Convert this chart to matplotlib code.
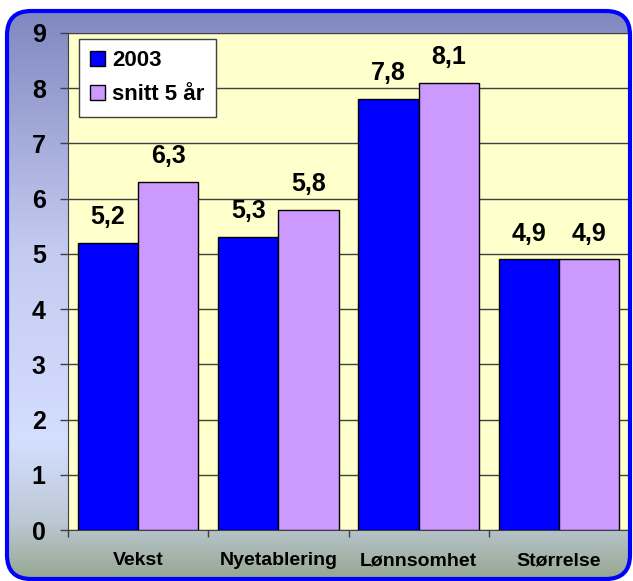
import matplotlib
matplotlib.use("Agg")
import matplotlib.pyplot as plt
import numpy as np
from matplotlib.patches import FancyBboxPatch
from matplotlib.colors import LinearSegmentedColormap

plt.rcParams['font.family'] = ['Liberation Sans', 'DejaVu Sans']
plt.rcParams['font.weight'] = 'bold'

categories = ['Vekst', 'Nyetablering', 'Lønnsomhet', 'Størrelse']
vals_2003 = [5.2, 5.3, 7.8, 4.9]
vals_snitt = [6.3, 5.8, 8.1, 4.9]
series_names = ['2003', 'snitt 5 år']

W, H = 633, 581
fig = plt.figure(figsize=(W / 100, H / 100), dpi=100)

# background with rounded frame and vertical gradient
bg = fig.add_axes([0, 0, 1, 1], zorder=-5)
bg.set_xlim(0, W)
bg.set_ylim(H, 0)
bg.axis('off')
stops = [(0.0, '#8088c0'), (0.42, '#c4cbf0'), (0.76, '#d4deff'),
         (0.90, '#bcc8d4'), (1.0, '#96a891')]
cmap = LinearSegmentedColormap.from_list('bg', stops)
grad = np.linspace(0, 1, 256).reshape(-1, 1)
im = bg.imshow(grad, cmap=cmap, aspect='auto', extent=(7, 630, 579, 11))
clip = FancyBboxPatch((7, 11), 623, 568, boxstyle='round,pad=0,rounding_size=24',
                      transform=bg.transData, facecolor='none', edgecolor='none')
bg.add_patch(clip)
im.set_clip_path(clip)

frame = FancyBboxPatch((7 / W, 1 - 579 / H), 623 / W, 568 / H,
                       boxstyle='round,pad=0,rounding_size=0.038',
                       transform=fig.transFigure, facecolor='none',
                       edgecolor='#0000ff', linewidth=3, zorder=20,
                       mutation_aspect=W / H)
fig.patches.append(frame)

ax = fig.add_axes([68 / W, 1 - 530 / H, 561 / W, 497 / H])
ax.set_facecolor('#ffffcc')

x = np.arange(len(categories))
w = 0.43
b1 = ax.bar(x - w / 2, vals_2003, w, color='#0000ff', edgecolor='black', linewidth=1, zorder=3)
b2 = ax.bar(x + w / 2, vals_snitt, w, color='#cc99ff', edgecolor='black', linewidth=1, zorder=3)

for bars, vals in ((b1, vals_2003), (b2, vals_snitt)):
    ax.bar_label(bars, labels=[f"{v:.1f}".replace('.', ',') for v in vals],
                 padding=10, fontsize=18, fontweight='bold')

ax.set_xlim(-0.5, len(categories) - 0.5)
ax.set_ylim(0, 9)
ax.set_yticks(range(10))
ax.yaxis.grid(True, color='#404040', linewidth=1, zorder=0)
ax.set_axisbelow(True)
ax.tick_params(axis='y', length=6, width=1, color='#404040', pad=10, labelsize=18)

ax.set_xticks(x)
ax.set_xticklabels(categories, fontsize=14, fontweight='bold')
ax.set_xticks(np.arange(len(categories) + 1) - 0.5, minor=True)
ax.tick_params(axis='x', which='major', length=0, pad=16)
ax.tick_params(axis='x', which='minor', length=5, width=1, color='#404040')

for s in ['top', 'right']:
    ax.spines[s].set_visible(False)
ax.spines['left'].set_color('#404040')
ax.spines['bottom'].set_color('#404040')

leg = ax.legend([b1, b2], series_names, loc='upper left',
                bbox_to_anchor=(79 / W, 1 - 39 / H), bbox_transform=fig.transFigure,
                borderaxespad=0, fancybox=False, framealpha=1, edgecolor='#404040',
                prop={'size': 16, 'weight': 'bold'}, handlelength=0.65, handleheight=0.65,
                handletextpad=0.35, labelspacing=0.6, borderpad=0.5)
leg.get_frame().set_linewidth(1)

fig.savefig('out.png', dpi=100)
